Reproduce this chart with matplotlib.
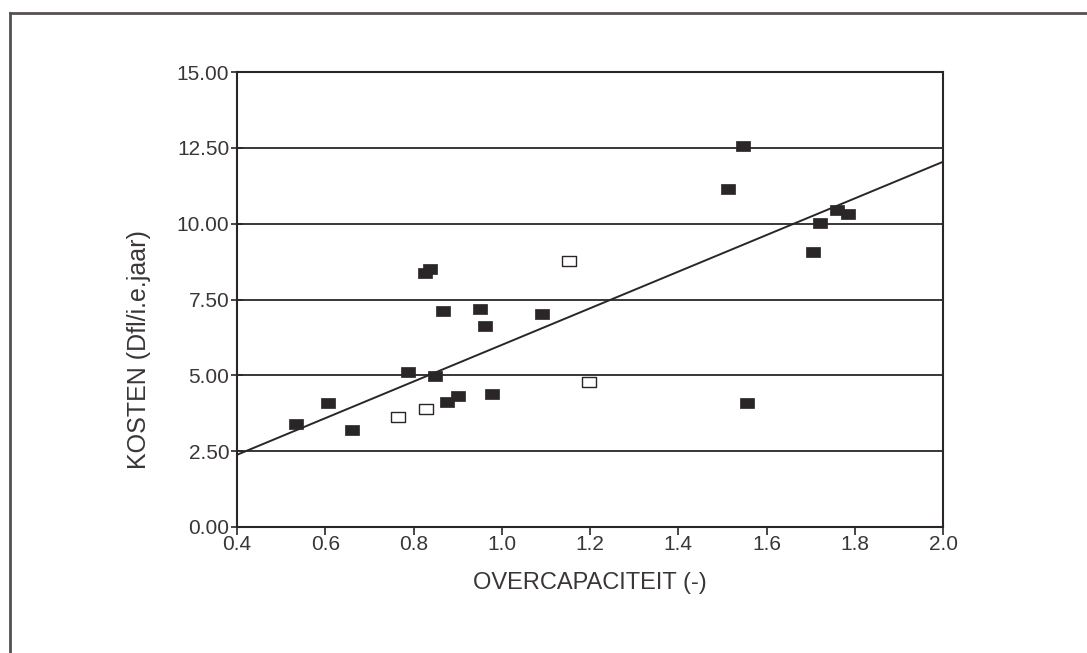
import matplotlib
matplotlib.use("Agg")
import matplotlib.pyplot as plt
from matplotlib.lines import Line2D

# Data
filled_x = [0.533, 0.607, 0.661, 0.788, 0.825, 0.837, 0.848, 0.866, 0.877, 0.901,
            0.950, 0.962, 0.979, 1.092, 1.513, 1.547, 1.555, 1.706, 1.721, 1.759, 1.785]
filled_y = [3.39, 4.10, 3.20, 5.11, 8.36, 8.49, 4.98, 7.12, 4.11, 4.32,
            7.20, 6.62, 4.39, 7.02, 11.13, 12.56, 4.10, 9.08, 10.01, 10.45, 10.32]
open_x = [0.766, 0.828, 1.153, 1.197]
open_y = [3.62, 3.88, 8.76, 4.79]
fit_x = [0.4, 2.0]
fit_y = [2.38, 12.04]

x_ticks = [0.4, 0.6, 0.8, 1.0, 1.2, 1.4, 1.6, 1.8, 2.0]
y_ticks = [0.0, 2.5, 5.0, 7.5, 10.0, 12.5, 15.0]

FONT = ['Liberation Sans Narrow', 'Liberation Sans', 'DejaVu Sans']
plt.rcParams['font.family'] = FONT

fig = plt.figure(figsize=(10.87, 6.53), dpi=100)
ax = fig.add_axes([237/1087, 1-527/653, (943-237)/1087, (527-72)/653])

ink = '#2a2628'
txt = '#3a3638'

for yv in y_ticks[1:]:
    ax.axhline(yv, color=ink, lw=1.3, zorder=1)

ax.plot(fit_x, fit_y, color=ink, lw=1.4, zorder=2)

rect = [(-1.25, -1), (1.25, -1), (1.25, 1), (-1.25, 1), (-1.25, -1)]
ax.plot(filled_x, filled_y, linestyle='none', marker=rect, markersize=9.5,
        markerfacecolor=ink, markeredgecolor=ink, markeredgewidth=0.5, zorder=3)
ax.plot(open_x, open_y, linestyle='none', marker=rect, markersize=9.5,
        markerfacecolor='white', markeredgecolor=ink, markeredgewidth=1.0, zorder=3)

ax.set_xlim(0.4, 2.0)
ax.set_ylim(0, 15)
ax.set_xticks(x_ticks)
ax.set_xticklabels([f"{v:.1f}" for v in x_ticks])
ax.set_yticks(y_ticks)
ax.set_yticklabels([f"{v:.2f}" for v in y_ticks])

for s in ax.spines.values():
    s.set_color(ink)
    s.set_linewidth(1.5)

ax.tick_params(axis='y', direction='inout', length=9, width=1.2, colors=ink,
               labelsize=15, pad=1, labelcolor=txt)
ax.tick_params(axis='x', direction='out', length=6, width=1.2, colors=ink,
               labelsize=15, pad=0, labelcolor=txt)

ax.set_xlabel('OVERCAPACITEIT (-)', fontsize=17, color=txt, labelpad=13)
ax.set_ylabel('KOSTEN (Dfl/i.e.jaar)', fontsize=18, color=txt)
ax.yaxis.set_label_coords(-0.122, (527-350)/455)

# outer frame of the figure
fig.add_artist(Line2D([10/1087, 10/1087], [0, 1-13/653], color='#555055', lw=2.0,
                      transform=fig.transFigure))
fig.add_artist(Line2D([10/1087, 1.0], [1-13/653, 1-13/653], color='#555055', lw=2.0,
                      transform=fig.transFigure))

fig.savefig('out.png', dpi=100)
